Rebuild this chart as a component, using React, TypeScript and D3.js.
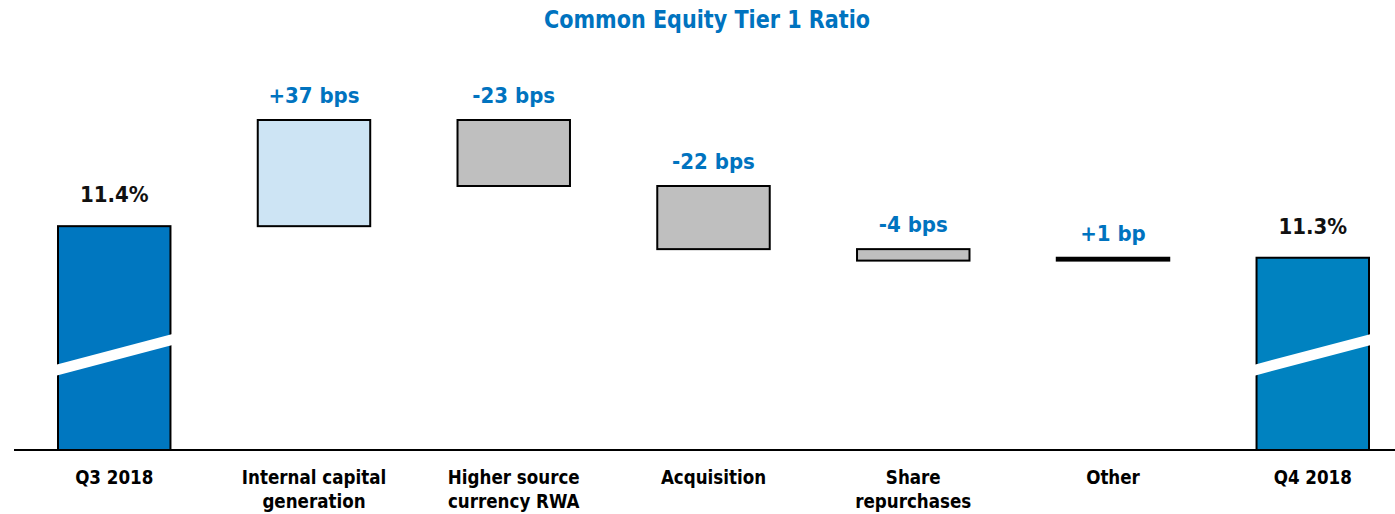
import React from 'react';
import * as d3 from 'd3';

// chart data
const categories = ['Q3 2018', 'Internal capital generation', 'Higher source currency RWA', 'Acquisition', 'Share repurchases', 'Other', 'Q4 2018'];
const categoryLines = [['Q3 2018'], ['Internal capital', 'generation'], ['Higher source', 'currency RWA'], ['Acquisition'], ['Share', 'repurchases'], ['Other'], ['Q4 2018']];
const startRatio = 11.40;
const endRatio = 11.29;
const totalLabels = ['11.4%', '11.3%'];
const changesBps = [37, -23, -22, -4, 1];
const changeLabels = ['+37 bps', '-23 bps', '-22 bps', '-4 bps', '+1 bp'];
// where the axis is broken (in % ratio), bars start at axisFloor
const axisFloor = 10.62;
const axisTop = 11.77;
const breakLeft = 10.90;
const breakRight = 11.003;

const width = 1395;
const height = 514;
const font = "'Liberation Sans Narrow', 'DejaVu Sans Condensed', Roboto, sans-serif";
const blue = '#0073BF';

const x = d3.scaleBand<string>().domain(categories).range([58, 1369]).paddingInner(0.437).paddingOuter(0);
const y = d3.scaleLinear().domain([axisFloor, axisTop]).range([450, 120]);

type Bar = {cat: string, lo: number, hi: number, fill: string, label: string, labelColor: string, offset: number, total: boolean};

function buildBars(): Bar[] {
    const bars: Bar[] = [];
    bars.push({cat: categories[0], lo: axisFloor, hi: startRatio, fill: '#0077C0', label: totalLabels[0], labelColor: '#111', offset: 24, total: true});
    let running = startRatio;
    changesBps.forEach((bp, i) => {
        const next = running + bp / 100;
        const fill = i === 4 ? '#000' : bp > 0 ? '#CDE4F4' : '#BFBFBF';
        bars.push({cat: categories[i + 1], lo: Math.min(running, next), hi: Math.max(running, next), fill, label: changeLabels[i], labelColor: blue, offset: 17, total: false});
        running = next;
    });
    bars.push({cat: categories[6], lo: axisFloor, hi: endRatio, fill: '#0082C0', label: totalLabels[1], labelColor: '#111', offset: 24, total: true});
    return bars;
}

export default function App() {
    const bars = buildBars();
    const bw = x.bandwidth();
    return (
        <svg width={width} height={height} style={{position: 'absolute', left: 0, top: 0, background: '#fff'}}>
            <text x={707} y={28} textAnchor="middle" fontFamily={font} fontWeight="bold" fontSize={25} fill={blue}
                  textLength={326} lengthAdjust="spacingAndGlyphs">
                Common Equity Tier 1 Ratio
            </text>
            {bars.map((b) => {
                const x0 = x(b.cat)!;
                const top = y(b.hi);
                const h = Math.max(y(b.lo) - top, 1);
                const yl = y(breakLeft);
                const yr = y(breakRight);
                const t = 5.5;
                return (
                    <g key={b.cat}>
                        <rect x={x0} y={top} width={bw} height={h} fill={b.fill} stroke="#000" strokeWidth={2}/>
                        {b.total && (
                            <polygon
                                points={`${x0 - 3},${yl - t + 0.8} ${x0 + bw + 3},${yr - t - 0.8} ${x0 + bw + 3},${yr + t - 0.8} ${x0 - 3},${yl + t + 0.8}`}
                                fill="#fff"/>
                        )}
                        <text x={x0 + bw / 2} y={top - b.offset} textAnchor="middle" fontFamily={font} fontWeight="bold"
                              fontSize={22} fill={b.labelColor}>{b.label}</text>
                    </g>
                );
            })}
            <line x1={14} x2={width} y1={y(axisFloor)} y2={y(axisFloor)} stroke="#000" strokeWidth={2}/>
            {categories.map((c, i) => (
                <g key={c} transform={`translate(${x(c)! + bw / 2},484) scale(0.93,1)`}>
                    <text x={0} y={0} textAnchor="middle" fontFamily={font} fontWeight="bold" fontSize={20} fill="#000">
                        {categoryLines[i].map((line, j) => (
                            <tspan key={j} x={0} dy={j === 0 ? 0 : 24}>{line}</tspan>
                        ))}
                    </text>
                </g>
            ))}
        </svg>
    );
}
